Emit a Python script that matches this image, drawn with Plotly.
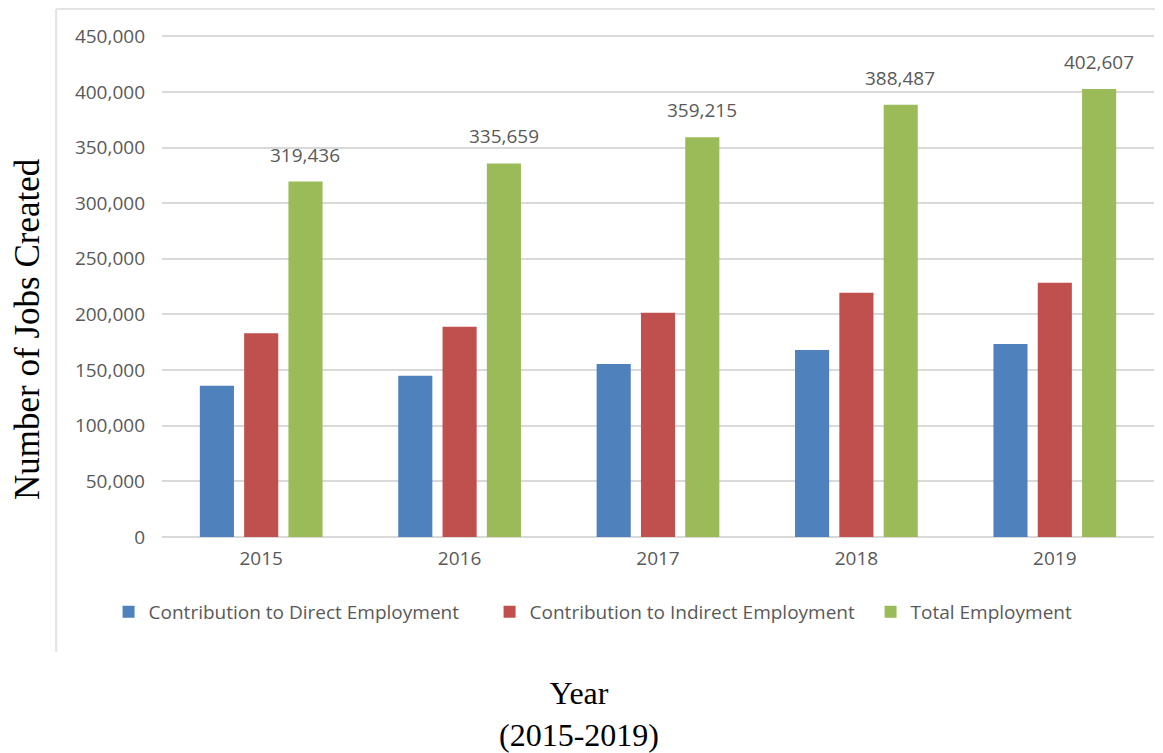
import plotly.graph_objects as go

years = ["2015", "2016", "2017", "2018", "2019"]
direct = [136000, 145000, 155500, 168000, 173500]
indirect = [183000, 189000, 201500, 219500, 228500]
total = [319436, 335659, 359215, 388487, 402607]
series_names = ["Contribution to Direct Employment",
                "Contribution to Indirect Employment",
                "Total Employment"]
colors = ["#4F81BD", "#C0504D", "#9BBB59"]

# the page adds an 8px body margin, so the figure is laid out 8px smaller
OFF = 8
W, H = 1163 - OFF, 753 - OFF
PLOT_L, PLOT_R, PLOT_T, PLOT_B = 162, 1146, 34, 537   # in reference pixels
ML = PLOT_L - OFF
MR = (W + OFF) - PLOT_R - OFF
MT = PLOT_T - OFF
MB = (H + OFF) - PLOT_B
PW = PLOT_R - PLOT_L
PH = PLOT_B - PLOT_T
BARGAP = 0.33
GROUPGAP = 0.23


def px(xp):
    return (xp - PLOT_L) / PW


def py(yp):
    return (PLOT_B - yp) / PH


tick_font = dict(family="Open Sans, Lato, sans-serif", size=19, color="#595959")

fig = go.Figure()
for name, vals, col in zip(series_names, [direct, indirect, total], colors):
    fig.add_trace(go.Bar(x=years, y=vals, name=name, marker=dict(color=col, line=dict(width=0))))

# data labels above the total bars
cat_w = PW / len(years)
slot = cat_w * (1 - BARGAP) / 3
for i, v in enumerate(total):
    fig.add_annotation(x=i, y=v, text=f"{v:,}", showarrow=False, xref="x", yref="y",
                       xanchor="center", xshift=slot, yanchor="bottom", yshift=12,
                       font=tick_font)

# axis titles
serif = "Liberation Serif, Times New Roman, serif"
fig.add_annotation(x=px(28), y=py(329), xref="paper", yref="paper", text="Number of Jobs Created",
                   textangle=-90, showarrow=False, xanchor="center", yanchor="middle",
                   font=dict(family=serif, size=35, color="#000000"))
fig.add_annotation(x=px(576), y=py(714), xref="paper", yref="paper", text="Year<br>(2015-2019)",
                   showarrow=False, xanchor="center", yanchor="middle",
                   font=dict(family=serif, size=32, color="#000000"))

# chart border (top and left)
border = dict(color="#E3E3E3", width=2)
fig.add_shape(type="line", xref="paper", yref="paper", x0=px(57), x1=px(1163), y0=py(9), y1=py(9), line=border)
fig.add_shape(type="line", xref="paper", yref="paper", x0=px(57), x1=px(57), y0=py(9), y1=py(652), line=border)

fig.update_layout(
    width=W, height=H,
    margin=dict(l=ML, r=MR, t=MT, b=MB, autoexpand=False),
    paper_bgcolor="white", plot_bgcolor="white",
    barmode="group", bargap=BARGAP, bargroupgap=GROUPGAP,
    showlegend=True,
    legend=dict(orientation="h", x=px(109), y=py(612), xanchor="left", yanchor="middle",
                entrywidth=336, entrywidthmode="pixels",
                font=dict(family="Open Sans, Lato, sans-serif", size=19, color="#595959"),
                traceorder="normal"),
    xaxis=dict(type="category", range=[-0.5, len(years) - 0.5], showgrid=False, showline=False,
               ticks="", tickfont=tick_font, ticklabelstandoff=8),
    yaxis=dict(range=[0, 452000], tickvals=[0, 50000, 100000, 150000, 200000, 250000, 300000,
                                            350000, 400000, 450000],
               tickformat=",", showgrid=True, gridcolor="#D9D9D9",
               gridwidth=2, zeroline=True, zerolinecolor="#D9D9D9", zerolinewidth=2,
               showline=False, ticks="", tickfont=tick_font, ticklabelstandoff=16),
)

fig.write_html("out.html")
